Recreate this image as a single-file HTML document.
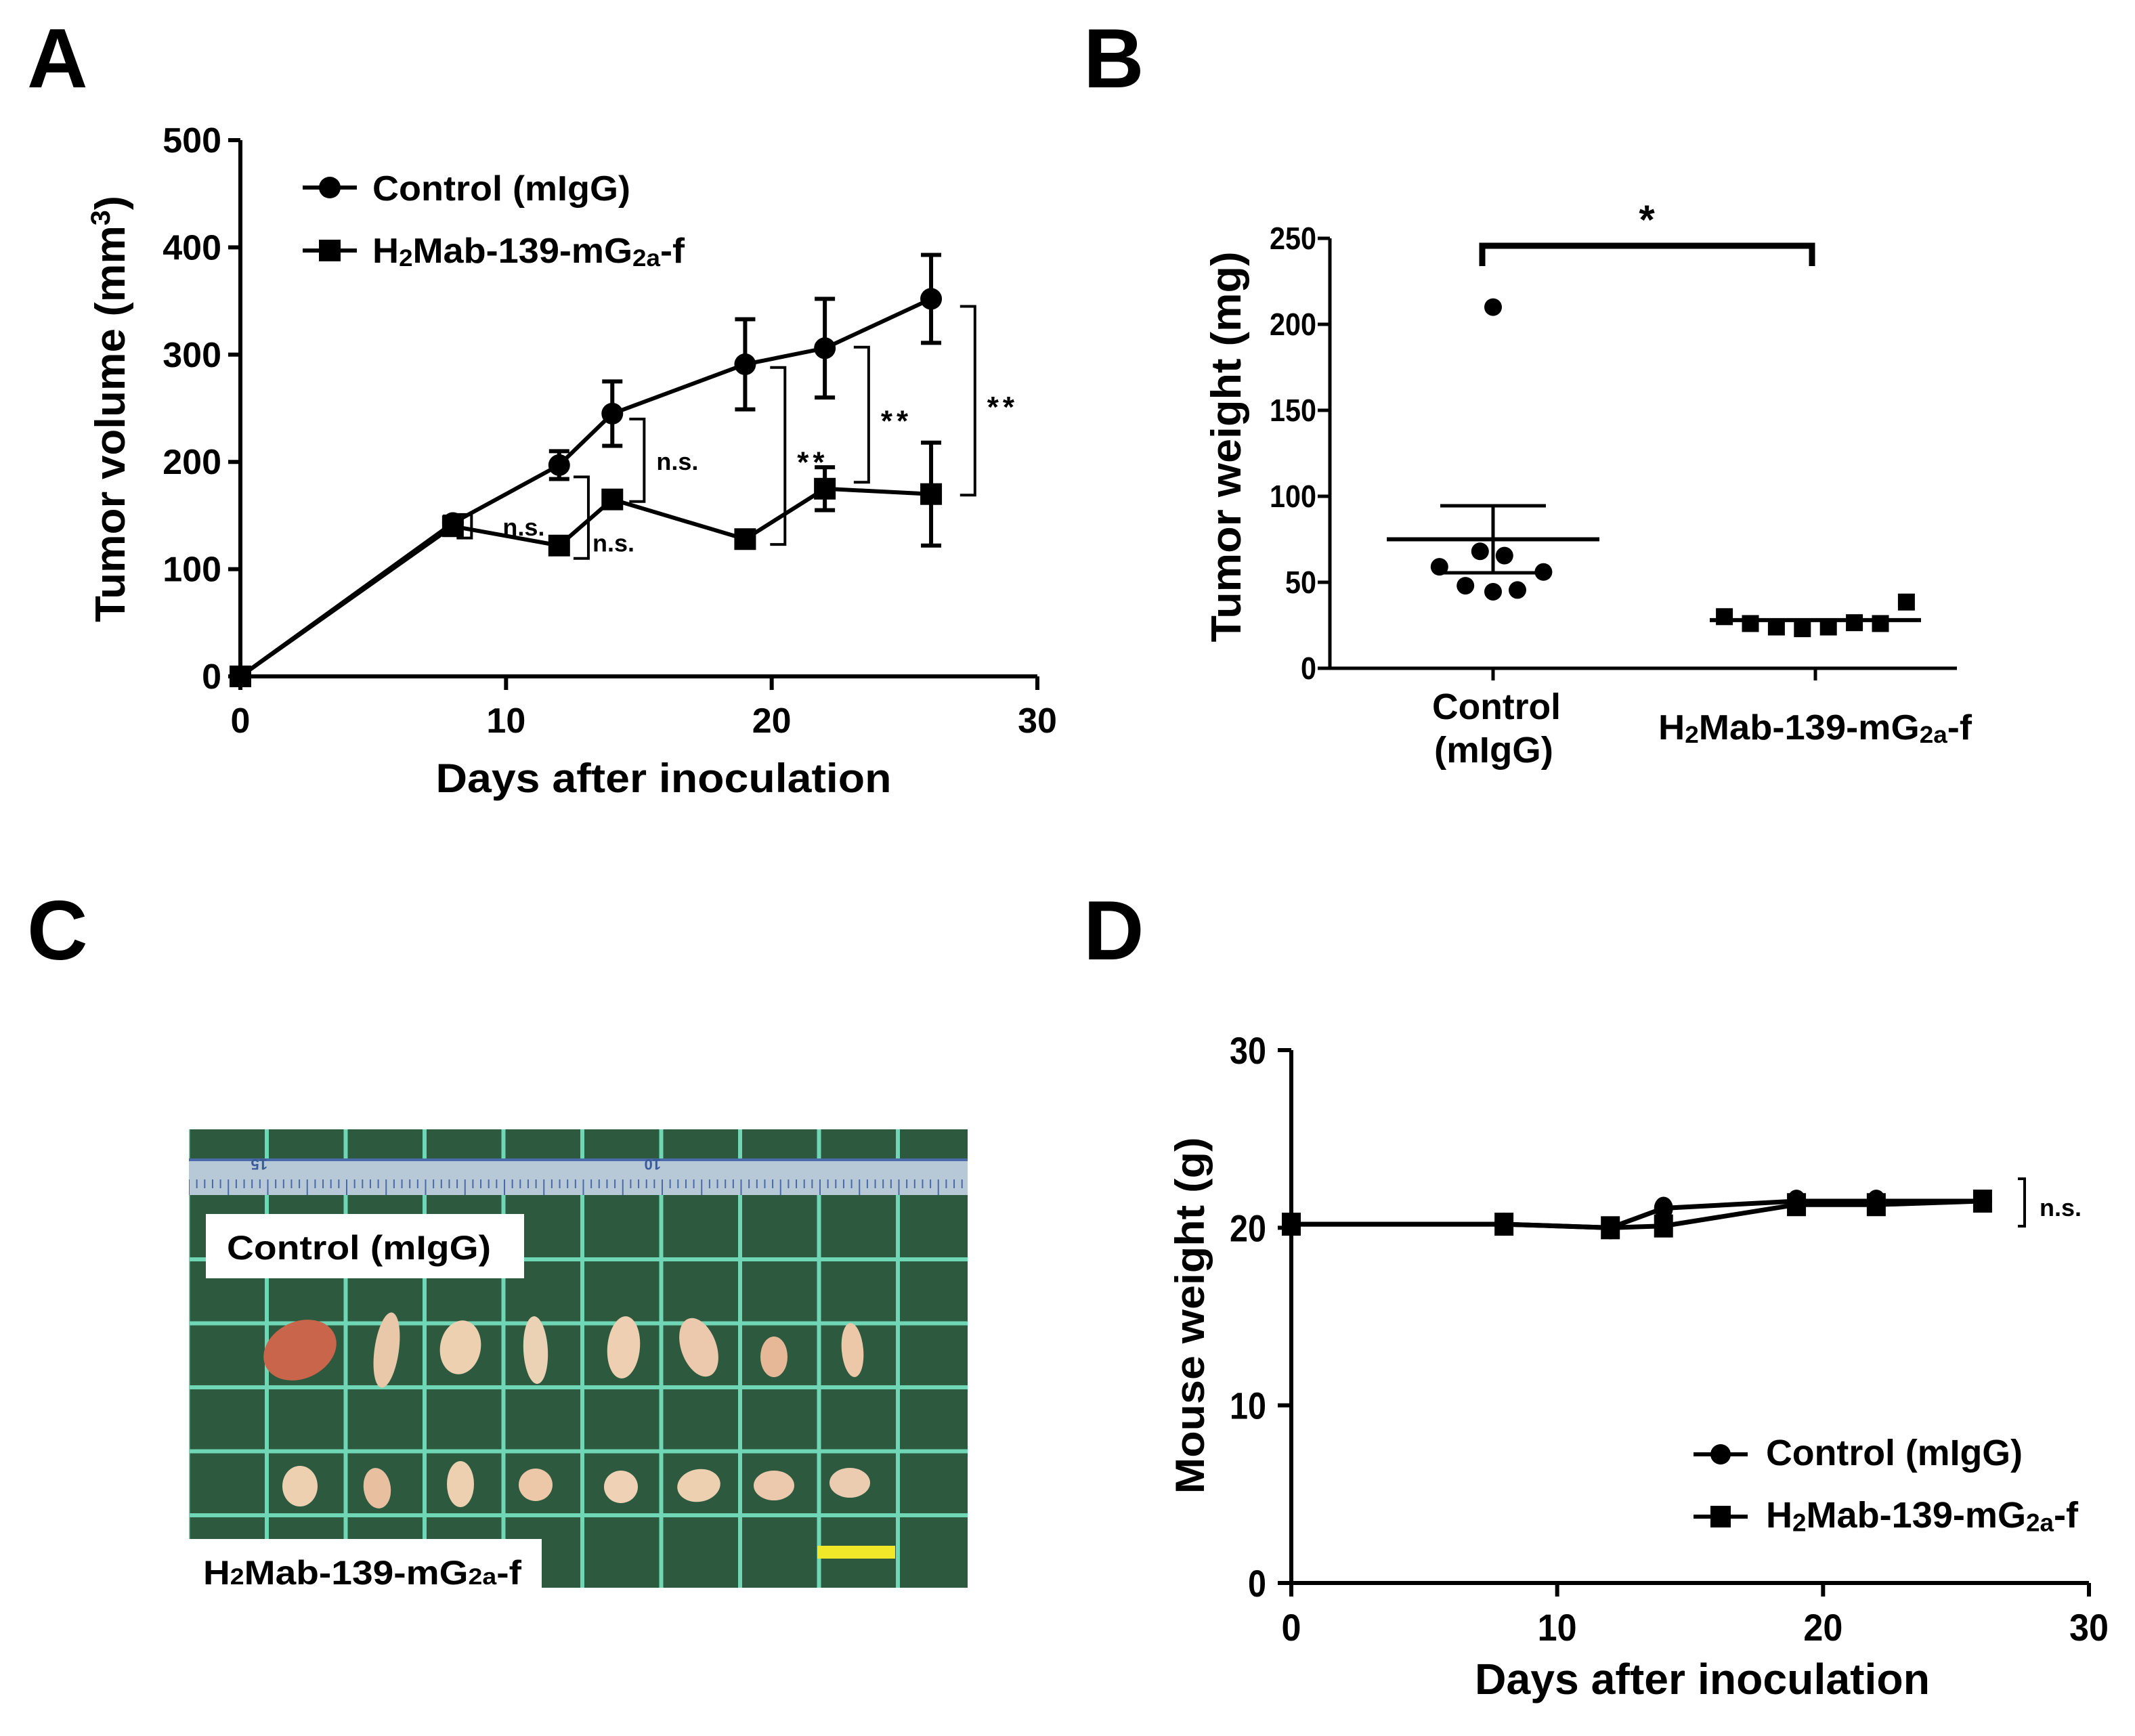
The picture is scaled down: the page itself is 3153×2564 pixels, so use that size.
<!DOCTYPE html>
<html><head><meta charset="utf-8"><style>
html,body{margin:0;padding:0;background:#fff;}
svg{display:block;font-family:"Liberation Sans",Arial,sans-serif;font-weight:bold;}
</style></head><body>
<svg id="fig" xmlns="http://www.w3.org/2000/svg" width="3153" height="2564" viewBox="0 0 3153 2564">
<rect x="0" y="0" width="3153" height="2564" fill="#fff"/>
<text x="40" y="129" font-size="124">A</text>
<text x="1600" y="129" font-size="124">B</text>
<text x="40" y="1417" font-size="124">C</text>
<text x="1600" y="1417" font-size="124">D</text>

<!-- Panel C photo -->
<g id="photo">
  <defs><clipPath id="pc"><rect x="279" y="1668" width="1150" height="677"/></clipPath></defs>
  <g clip-path="url(#pc)">
    <rect x="279" y="1668" width="1150" height="677" fill="#2d5a3f"/>
    <g id="gridlines" stroke="#6fd6b6" stroke-width="6"></g>
    <rect x="279" y="1713" width="1150" height="52" fill="#b7c9d6"/>
    <g id="rulerticks" stroke="#4a6aa8" stroke-width="2"></g>
    <text x="385" y="1708" font-size="22" fill="#3a5a9a" transform="rotate(180 390 1710)">15</text>
    <text x="960" y="1708" font-size="22" fill="#3a5a9a" transform="rotate(180 968 1710)">10</text>
    <g id="tumors"></g>
    <rect x="1207" y="2283" width="115" height="19" fill="#f2e82a"/>
  </g>
  <rect x="304" y="1793" width="470" height="95" fill="#fff"/>
  <text x="335" y="1860" font-size="50" textLength="390" lengthAdjust="spacingAndGlyphs">Control (mIgG)</text>
  <rect x="279" y="2273" width="521" height="83" fill="#fff"/>
  <text x="300" y="2340" font-size="50" textLength="470" lengthAdjust="spacingAndGlyphs">H<tspan font-size="34">2</tspan>Mab-139-mG<tspan font-size="34">2a</tspan>-f</text>
</g>
<g id="panelA"></g>
<g id="panelB"></g>
<g id="panelD"></g>
</svg>
<script>
// ---------- Panel A data ----------
const daysA = [0, 8, 12, 14, 19, 22, 26];
const ctrlVolA = [0, 143, 197, 245, 291, 306, 352];
const ctrlErrA = [0, 6, 13, 30, 42, 46, 41];
const trtVolA = [0, 140, 122, 165, 128, 175, 170];
const trtErrA = [0, 8, 5, 6, 6, 20, 48];
const yTicksA = [0, 100, 200, 300, 400, 500];
const xTicksA = [0, 10, 20, 30];
const sigDayA = [8.7, 13.1, 15.2, 20.5, 23.65, 27.65];
const sigTopA = [151, 186, 240, 288, 307, 345];
const sigBotA = [129, 110, 163, 123, 181, 169];
const sigTextA = ["n.s.", "n.s.", "n.s.", "**", "**", "**"];
// ---------- Panel B data ----------
const groupsB = ["Control", "H2Mab-139-mG2a-f"];
const ctrlWtB = [59, 68, 65.5, 56, 48, 44.5, 45.5, 210];
const ctrlOffB = [-0.33, -0.08, 0.07, 0.31, -0.17, 0, 0.15, 0];
const trtWtB = [30, 26, 24, 23, 24, 26.5, 26, 38.5];
const trtOffB = [-0.56, -0.4, -0.24, -0.08, 0.08, 0.24, 0.4, 0.56];
const meanB = [75, 28];
const semB = [19.5, 2];
const yTicksB = [0, 50, 100, 150, 200, 250];
// ---------- Panel D data ----------
const daysD = [0, 8, 12, 14, 19, 22, 26];
const ctrlWtD = [20.2, 20.2, 20.0, 21.1, 21.5, 21.5, 21.5];
const trtWtD = [20.2, 20.2, 20.0, 20.1, 21.3, 21.3, 21.5];
const yTicksD = [0, 10, 20, 30];
const xTicksD = [0, 10, 20, 30];
// ---------- Panel C photo layout ----------
const tumorTop = [[443,1994,56,42,-25,'#c8654a'],[571,1994,18,56,8,'#e8c8a8'],[680,1990,30,40,10,'#ecd0b0'],[791,1994,18,50,-3,'#ecd2b4'],[921,1990,24,46,5,'#efcfb2'],[1032,1990,26,45,-20,'#ecc8ac'],[1143,2004,20,30,0,'#e6b898'],[1259,1994,16,40,-5,'#ecc8a8']];
const tumorBot = [[443,2195,26,30,0,'#ecd0b0'],[557,2198,20,30,-8,'#e8c0a0'],[680,2192,20,34,0,'#ecd0b0'],[791,2193,25,24,0,'#ecc8a8'],[917,2196,25,24,0,'#efd2b6'],[1032,2194,32,24,-10,'#ecd0b0'],[1143,2194,30,22,0,'#ecc8ac'],[1255,2190,30,22,0,'#ecccb0']];

const NS = "http://www.w3.org/2000/svg";
function mk(tag, parent, attrs) {
  const e = document.createElementNS(NS, tag);
  for (const k in attrs) e.setAttribute(k, attrs[k]);
  parent.appendChild(e);
  return e;
}
function subText(parent, x, y, fs, len, anchor) {
  const t = mk('text', parent, {x: x, y: y, 'font-size': fs, 'text-anchor': anchor || 'start'});
  if (len) { t.setAttribute('textLength', len); t.setAttribute('lengthAdjust', 'spacingAndGlyphs'); }
  t.innerHTML = 'H<tspan font-size="' + (fs*0.68) + '" dy="' + (fs*0.1) + '">2</tspan><tspan dy="' + (-fs*0.1) + '">Mab-139-mG</tspan><tspan font-size="' + (fs*0.68) + '" dy="' + (fs*0.1) + '">2a</tspan><tspan dy="' + (-fs*0.1) + '">-f</tspan>';
  return t;
}

// ---------- Photo ----------
(function(){
  const g = document.getElementById('gridlines');
  for (let i = -1; i < 10; i++) {
    const l = mk('line', g, {x1: 394 + i*116.5, y1: 1668, x2: 394 + i*116.5, y2: 2345});
    
    
  }
  for (let j = 0; j < 5; j++) {
    const l = mk('line', g, {x1: 279, y1: 1860 + j*94.5, x2: 1429, y2: 1860 + j*94.5});
    
    
  }
  const rt = document.getElementById('rulerticks');
  for (let k = 0; k < 100; k++) {
    const x = 279 + k*11.65;
    const l = mk('line', rt, {x1: x, y1: 1742, x2: x, y2: 1765 - (k%5 ? 10 : 0)});
    
    
  }
  mk('line', rt, {x1: 279, y1: 1713, x2: 1429, y2: 1713, 'stroke-width': 4});
  const tg = document.getElementById('tumors');
  tumorTop.concat(tumorBot).forEach(function(t){
    const e = mk('ellipse', tg, {cx: t[0], cy: t[1], rx: t[2], ry: t[3], fill: t[5], transform: 'rotate(' + t[4] + ' ' + t[0] + ' ' + t[1] + ')'});
    
    
  });
})();

// ---------- Panel A ----------
(function(){
  const g = document.getElementById('panelA');
  const X0 = 355, X1 = 1532, Y0 = 999, Y1 = 207;
  const xs = d => X0 + (d - 0) / 30 * (X1 - X0);
  const ys = v => Y0 - v / 500 * (Y0 - Y1);
  const ax = mk('path', g, {d: `M${X0},${Y1} V${Y0} H${X1}`, stroke: '#000', 'stroke-width': 6, fill: 'none'});
  
  
  yTicksA.forEach(v => {
    const t = mk('line', g, {x1: X0 - 18, y1: ys(v), x2: X0, y2: ys(v), stroke: '#000', 'stroke-width': 6});
    
    
    const l = mk('text', g, {x: 327, y: ys(v) + 18, 'font-size': 52, 'text-anchor': 'end'});
    l.textContent = v;
    
    
  });
  xTicksA.forEach(v => {
    const t = mk('line', g, {x1: xs(v), y1: Y0, x2: xs(v), y2: Y0 + 20, stroke: '#000', 'stroke-width': 6});
    
    
    const l = mk('text', g, {x: xs(v), y: 1082, 'font-size': 52, 'text-anchor': 'middle'});
    l.textContent = v;
    
    
  });
  const xt = mk('text', g, {x: 980, y: 1170, 'font-size': 60, 'text-anchor': 'middle', textLength: 673, lengthAdjust: 'spacingAndGlyphs'});
  xt.textContent = 'Days after inoculation';
  
  
  const yt = mk('text', g, {x: 0, y: 0, 'font-size': 62, 'text-anchor': 'middle', transform: 'translate(184,604) rotate(-90)', textLength: 630, lengthAdjust: 'spacingAndGlyphs'});
  yt.innerHTML = 'Tumor volume (mm<tspan font-size="40" dy="-22">3</tspan><tspan dy="22">)</tspan>';
  
  
  const lc = mk('polyline', g, {points: daysA.map((d,i) => xs(d) + ',' + ys(ctrlVolA[i])).join(' '), fill: 'none', stroke: '#000', 'stroke-width': 6});
  
  
  const lt = mk('polyline', g, {points: daysA.map((d,i) => xs(d) + ',' + ys(trtVolA[i])).join(' '), fill: 'none', stroke: '#000', 'stroke-width': 6});
  
  
  function err(d, v, e, name) {
    if (!e) return;
    const p = mk('path', g, {d: `M${xs(d)},${ys(v+e)} V${ys(v-e)} M${xs(d)-15},${ys(v+e)} h30 M${xs(d)-15},${ys(v-e)} h30`, stroke: '#000', 'stroke-width': 6, fill: 'none'});
    
    
  }
  daysA.forEach((d,i) => {
    err(d, ctrlVolA[i], ctrlErrA[i], 'control-error-bar-a');
    err(d, trtVolA[i], trtErrA[i], 'treated-error-bar-a');
    const c = mk('circle', g, {cx: xs(d), cy: ys(ctrlVolA[i]), r: 16, fill: '#000'});
    
    
    const s = mk('rect', g, {x: xs(d) - 16, y: ys(trtVolA[i]) - 16, width: 32, height: 32, fill: '#000'});
    
    
  });
  const labOff = [46, 6, 18, 18, 18, 18];
  sigDayA.forEach((d,i) => {
    const x = xs(d), yt1 = ys(sigTopA[i]), yb = ys(sigBotA[i]);
    const b = mk('path', g, {d: `M${x-22},${yt1} H${x} V${yb} H${x-22}`, stroke: '#000', 'stroke-width': 4, fill: 'none'});
    
    
    const isStar = sigTextA[i] === '**';
    const t = mk('text', g, {x: x + labOff[i], y: (yt1 + yb)/2 + (i===1 ? 50 : (isStar ? 24 : 14)), 'font-size': isStar ? 44 : 36, 'letter-spacing': isStar ? 6 : 0});
    t.textContent = sigTextA[i];
    
    
  });
  const l1 = mk('line', g, {x1: 447, y1: 277, x2: 527, y2: 277, stroke: '#000', 'stroke-width': 6});
  
  
  const m1 = mk('circle', g, {cx: 487, cy: 277, r: 16, fill: '#000'});
  
  
  const t1 = mk('text', g, {x: 550, y: 296, 'font-size': 52, textLength: 381, lengthAdjust: 'spacingAndGlyphs'});
  t1.textContent = 'Control (mIgG)';
  
  
  const l2 = mk('line', g, {x1: 447, y1: 370, x2: 527, y2: 370, stroke: '#000', 'stroke-width': 6});
  
  
  const m2 = mk('rect', g, {x: 471, y: 354, width: 32, height: 32, fill: '#000'});
  
  
  const t2 = subText(g, 550, 388, 52, 461);
  
  
})();

// ---------- Panel B ----------
(function(){
  const g = document.getElementById('panelB');
  const X0 = 1964, X1 = 2890, Y0 = 987, Y1 = 352;
  const catX = [2205, 2681];
  const ys = v => Y0 - v / 250 * (Y0 - Y1);
  const ax = mk('path', g, {d: `M${X0},${Y1} V${Y0} M${X0-18},${Y0} H${X1}`, stroke: '#000', 'stroke-width': 5, fill: 'none'});
  
  
  yTicksB.forEach(v => {
    const t = mk('line', g, {x1: X0 - 18, y1: ys(v), x2: X0, y2: ys(v), stroke: '#000', 'stroke-width': 5});
    
    
    const l = mk('text', g, {x: 1944, y: ys(v) + 16, 'font-size': 46, 'text-anchor': 'end', textLength: String(v).length * 23, lengthAdjust: 'spacingAndGlyphs'});
    l.textContent = v;
    
    
  });
  catX.forEach(x => {
    const t = mk('line', g, {x1: x, y1: Y0, x2: x, y2: Y0 + 18, stroke: '#000', 'stroke-width': 5});
    
    
  });
  const c1 = mk('text', g, {x: 2210, y: 1062, 'font-size': 54, 'text-anchor': 'middle', textLength: 190, lengthAdjust: 'spacingAndGlyphs'});
  c1.textContent = 'Control';
  
  
  const c2 = mk('text', g, {x: 2206, y: 1126, 'font-size': 54, 'text-anchor': 'middle', textLength: 176, lengthAdjust: 'spacingAndGlyphs'});
  c2.textContent = '(mIgG)';
  
  
  const c3 = subText(g, 2449, 1092, 52, 463);
  
  
  const yt = mk('text', g, {x: 0, y: 0, 'font-size': 62, 'text-anchor': 'middle', transform: 'translate(1832,660) rotate(-90)', textLength: 577, lengthAdjust: 'spacingAndGlyphs'});
  yt.textContent = 'Tumor weight (mg)';
  
  
  const halfMean = [157, 156], halfCap = [78, 0];
  [0,1].forEach(i => {
    const m = mk('line', g, {x1: catX[i] - halfMean[i], y1: ys(meanB[i]), x2: catX[i] + halfMean[i], y2: ys(meanB[i]), stroke: '#000', 'stroke-width': 6});
    
    
    if (halfCap[i]) {
      const e = mk('path', g, {d: `M${catX[i]},${ys(meanB[i]+semB[i])} V${ys(meanB[i]-semB[i])} M${catX[i]-halfCap[i]},${ys(meanB[i]+semB[i])} h${2*halfCap[i]} M${catX[i]-halfCap[i]},${ys(meanB[i]-semB[i])} h${2*halfCap[i]}`, stroke: '#000', 'stroke-width': 5, fill: 'none'});
      
      
    }
  });
  ctrlWtB.forEach((v,i) => {
    const c = mk('circle', g, {cx: catX[0] + ctrlOffB[i]*240, cy: ys(v), r: 13, fill: '#000'});
    
    
  });
  trtWtB.forEach((v,i) => {
    const s = mk('rect', g, {x: catX[1] + trtOffB[i]*240 - 12.5, y: ys(v) - 12.5, width: 25, height: 25, fill: '#000'});
    
    
  });
  const br = mk('path', g, {d: `M${catX[0]-16},393 V363 H${catX[1]-5} V393`, stroke: '#000', 'stroke-width': 9, fill: 'none'});
  
  
  const st = mk('text', g, {x: 2432, y: 345, 'font-size': 60, 'text-anchor': 'middle'});
  st.textContent = '*';
  
  
})();

// ---------- Panel D ----------
(function(){
  const g = document.getElementById('panelD');
  const X0 = 1907, X1 = 3085, Y0 = 2338, Y1 = 1551;
  const xs = d => X0 + d / 30 * (X1 - X0);
  const ys = v => Y0 - v / 30 * (Y0 - Y1);
  const ax = mk('path', g, {d: `M${X0},${Y1} V${Y0} H${X1}`, stroke: '#000', 'stroke-width': 6, fill: 'none'});
  
  
  yTicksD.forEach(v => {
    const t = mk('line', g, {x1: X0 - 20, y1: ys(v), x2: X0, y2: ys(v), stroke: '#000', 'stroke-width': 6});
    
    
    const l = mk('text', g, {x: 1870, y: ys(v) + 20, 'font-size': 56, 'text-anchor': 'end', textLength: String(v).length * 27, lengthAdjust: 'spacingAndGlyphs'});
    l.textContent = v;
    
    
  });
  xTicksD.forEach(v => {
    const t = mk('line', g, {x1: xs(v), y1: Y0, x2: xs(v), y2: Y0 + 20, stroke: '#000', 'stroke-width': 6});
    
    
    const l = mk('text', g, {x: xs(v), y: 2423, 'font-size': 56, 'text-anchor': 'middle', textLength: String(v).length * 29, lengthAdjust: 'spacingAndGlyphs'});
    l.textContent = v;
    
    
  });
  const xt = mk('text', g, {x: 2514, y: 2502, 'font-size': 64, 'text-anchor': 'middle', textLength: 672, lengthAdjust: 'spacingAndGlyphs'});
  xt.textContent = 'Days after inoculation';
  
  
  const yt = mk('text', g, {x: 0, y: 0, 'font-size': 60, 'text-anchor': 'middle', transform: 'translate(1778,1943) rotate(-90)', textLength: 527, lengthAdjust: 'spacingAndGlyphs'});
  yt.textContent = 'Mouse weight (g)';
  
  
  const lc = mk('polyline', g, {points: daysD.map((d,i) => xs(d) + ',' + ys(ctrlWtD[i])).join(' '), fill: 'none', stroke: '#000', 'stroke-width': 7});
  
  
  const lt = mk('polyline', g, {points: daysD.map((d,i) => xs(d) + ',' + ys(trtWtD[i])).join(' '), fill: 'none', stroke: '#000', 'stroke-width': 7});
  
  
  daysD.forEach((d,i) => {
    const c = mk('ellipse', g, {cx: xs(d), cy: ys(ctrlWtD[i]), rx: 14, ry: 17, fill: '#000'});
    
    
    const s = mk('rect', g, {x: xs(d) - 14, y: ys(trtWtD[i]) - 17, width: 28, height: 34, fill: '#000'});
    
    
  });
  const br = mk('path', g, {d: `M2980,1741 H2990 V1811 H2980`, stroke: '#000', 'stroke-width': 4, fill: 'none'});
  
  
  const ns = mk('text', g, {x: 3012, y: 1796, 'font-size': 36});
  ns.textContent = 'n.s.';
  
  
  const l1 = mk('line', g, {x1: 2501, y1: 2148, x2: 2581, y2: 2148, stroke: '#000', 'stroke-width': 6});
  
  
  const m1 = mk('circle', g, {cx: 2541, cy: 2148, r: 15, fill: '#000'});
  
  
  const t1 = mk('text', g, {x: 2608, y: 2164, 'font-size': 54, textLength: 379, lengthAdjust: 'spacingAndGlyphs'});
  t1.textContent = 'Control (mIgG)';
  
  
  const l2 = mk('line', g, {x1: 2501, y1: 2240, x2: 2581, y2: 2240, stroke: '#000', 'stroke-width': 6});
  
  
  const m2 = mk('rect', g, {x: 2526, y: 2224, width: 30, height: 32, fill: '#000'});
  
  
  const t2 = subText(g, 2608, 2256, 54, 461);
  
  
})();
</script>
</body></html>
